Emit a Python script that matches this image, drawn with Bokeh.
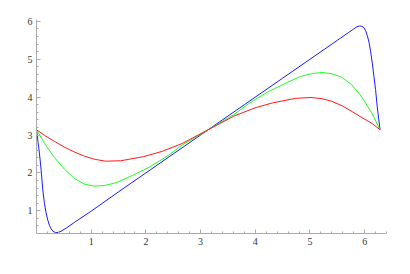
from bokeh.plotting import figure
from bokeh.models import FixedTicker, Range1d
from bokeh.embed import file_html
from bokeh.resources import INLINE

# Data
blue_x = [0, 0.028, 0.055, 0.083, 0.115, 0.145, 0.175, 0.205, 0.235, 0.265, 0.30, 0.35, 0.40, 0.45,
          0.55, 0.7, 1.0, 1.5, 2.0, 2.5, 3.14, 3.8, 4.5, 5.0, 5.5, 5.7, 5.8, 5.86, 5.91, 5.95,
          5.99, 6.02, 6.05, 6.08, 6.11, 6.14, 6.17, 6.2, 6.23, 6.255, 6.283]
blue_y = [3.14, 2.82, 2.5, 2.1, 1.55, 1.2, 0.95, 0.76, 0.62, 0.53, 0.46, 0.42, 0.43, 0.46,
          0.55, 0.70, 0.99, 1.5, 2.0, 2.5, 3.14, 3.8, 4.5, 5.0, 5.5, 5.7, 5.8, 5.86, 5.88, 5.87,
          5.83, 5.75, 5.62, 5.45, 5.2, 4.9, 4.55, 4.2, 3.75, 3.45, 3.14]

green_x = [0, 0.146, 0.33, 0.51, 0.695, 0.88, 1.06, 1.25, 1.45, 1.75, 2.06, 2.4, 2.67, 3.14,
           3.61, 3.88, 4.22, 4.53, 4.83, 5.03, 5.22, 5.40, 5.59, 5.77, 5.95, 6.14, 6.283]
green_y = [3.14, 2.78, 2.40, 2.10, 1.85, 1.70, 1.65, 1.67, 1.74, 1.93, 2.15, 2.45, 2.74, 3.14,
           3.54, 3.83, 4.13, 4.35, 4.55, 4.62, 4.65, 4.62, 4.52, 4.32, 4.0, 3.56, 3.14]

red_x = [0, 0.146, 0.33, 0.51, 0.695, 0.88, 1.06, 1.26, 1.54, 1.96, 2.3, 2.67, 3.14,
         3.61, 4.0, 4.32, 4.74, 5.02, 5.22, 5.40, 5.59, 5.77, 5.95, 6.14, 6.283]
red_y = [3.14, 2.99, 2.83, 2.68, 2.55, 2.44, 2.36, 2.31, 2.32, 2.43, 2.57, 2.78, 3.14,
         3.50, 3.72, 3.85, 3.97, 3.99, 3.96, 3.89, 3.77, 3.62, 3.46, 3.30, 3.14]

x_ticks = [1, 2, 3, 4, 5, 6]
y_ticks = [1, 2, 3, 4, 5, 6]

p = figure(width=402, height=266, output_backend="svg", toolbar_location=None,
           x_range=Range1d(0, 6.40), y_range=Range1d(0.40, 6.05),
           min_border_left=36, min_border_right=16, min_border_top=19, min_border_bottom=33)
p.outline_line_color = None
p.grid.visible = False
p.background_fill_color = "white"
p.border_fill_color = "white"

p.line(blue_x, blue_y, line_color="#1a1aff", line_width=1.0)
p.line(green_x, green_y, line_color="#1aff1a", line_width=1.0)
p.line(red_x, red_y, line_color="#ff1a1a", line_width=1.0)

minor_x = [i / 5 for i in range(0, 33) if i % 5 != 0]
minor_y = [i / 5 for i in range(3, 31) if i % 5 != 0]
p.xaxis.ticker = FixedTicker(ticks=x_ticks, minor_ticks=minor_x)
p.yaxis.ticker = FixedTicker(ticks=y_ticks, minor_ticks=minor_y)

for ax in (p.xaxis, p.yaxis):
    ax.axis_line_color = "#aaaaaa"
    ax.major_tick_line_color = "#aaaaaa"
    ax.minor_tick_line_color = "#aaaaaa"
    ax.major_tick_in = 4
    ax.major_tick_out = 0
    ax.minor_tick_in = 2
    ax.minor_tick_out = 0
    ax.major_label_text_font = "Liberation Serif"
    ax.major_label_text_font_size = "10px"
    ax.major_label_text_color = "#333333"
    ax.major_label_standoff = 4

open("out.html", "w").write(file_html(p, INLINE))
